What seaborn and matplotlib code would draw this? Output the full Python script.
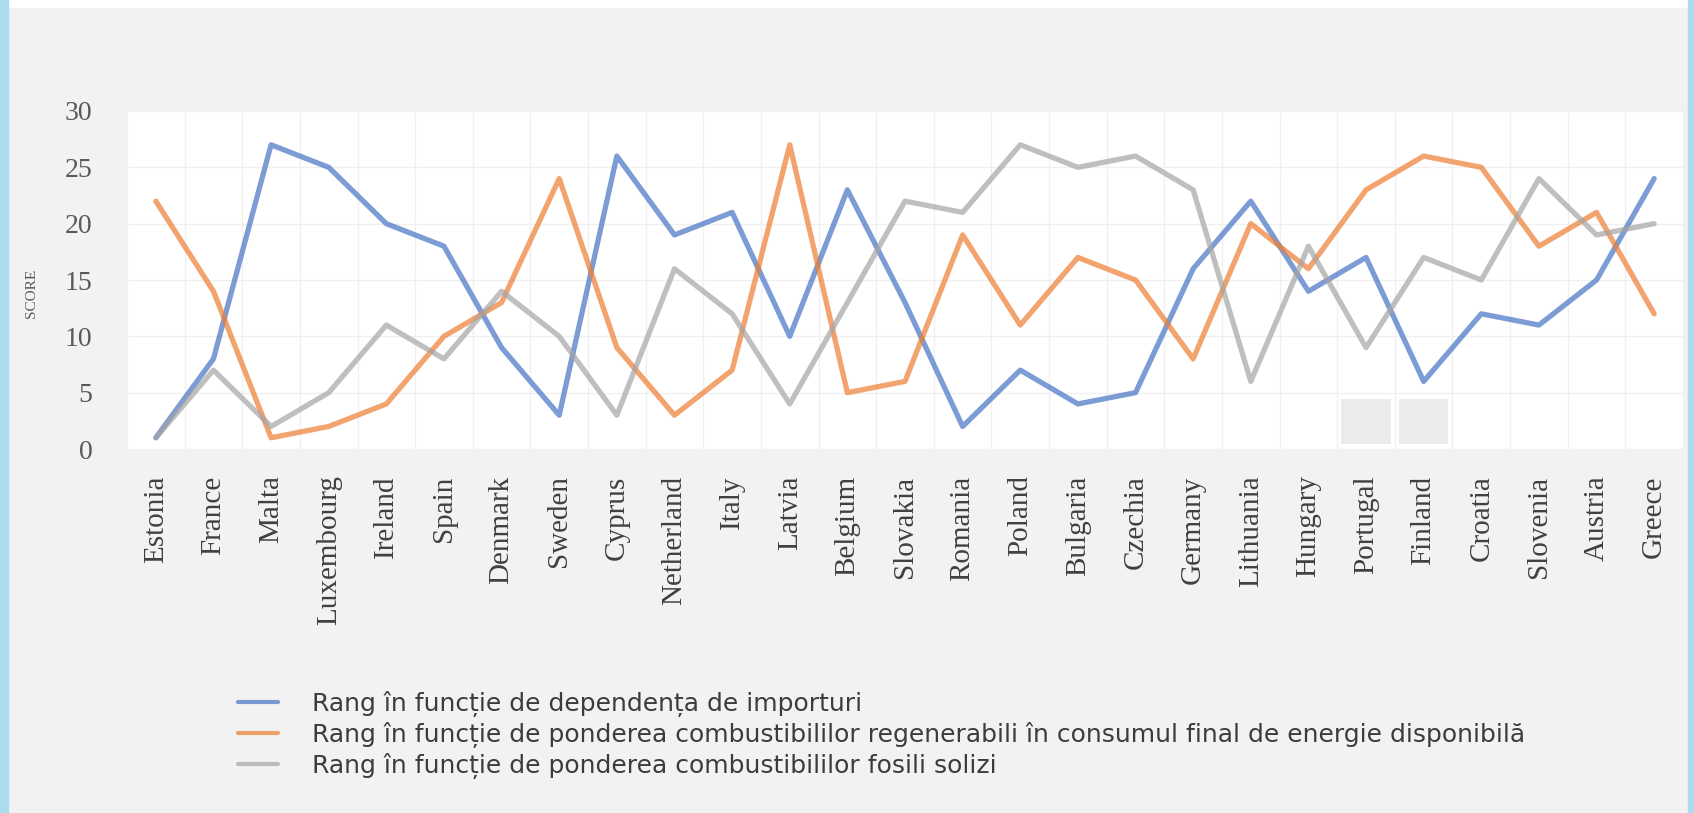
import numpy as np
import pandas as pd
import matplotlib
matplotlib.use("Agg")
import matplotlib.pyplot as plt
import seaborn as sns
from matplotlib.patches import Rectangle

countries = ["Estonia", "France", "Malta", "Luxembourg", "Ireland", "Spain", "Denmark",
             "Sweden", "Cyprus", "Netherland", "Italy", "Latvia", "Belgium", "Slovakia",
             "Romania", "Poland", "Bulgaria", "Czechia", "Germany", "Lithuania", "Hungary",
             "Portugal", "Finland", "Croatia", "Slovenia", "Austria", "Greece"]
import_rank = [1, 8, 27, 25, 20, 18, 9, 3, 26, 19, 21, 10, 23, 13, 2, 7, 4, 5, 16, 22, 14,
               17, 6, 12, 11, 15, 24]
renewable_rank = [22, 14, 1, 2, 4, 10, 13, 24, 9, 3, 7, 27, 5, 6, 19, 11, 17, 15, 8, 20, 16,
                  23, 26, 25, 18, 21, 12]
fossil_rank = [1, 7, 2, 5, 11, 8, 14, 10, 3, 16, 12, 4, 13, 22, 21, 27, 25, 26, 23, 6, 18,
               9, 17, 15, 24, 19, 20]
series_labels = ["Rang în funcție de dependența de importuri",
                 "Rang în funcție de ponderea combustibililor regenerabili în consumul final de energie disponibilă",
                 "Rang în funcție de ponderea combustibililor fosili solizi"]
y_ticks = [0, 5, 10, 15, 20, 25, 30]
y_label = "SCORE"
masked_countries = ["Portugal", "Finland"]

colors = ["#4472C4", "#ED7D31", "#A5A5A5"]

sns.set_theme(style="white")
plt.rcParams['font.family'] = ['Liberation Serif', 'DejaVu Serif']

W, H = 1694, 813
fig = plt.figure(figsize=(W / 100, H / 100), dpi=100, facecolor='#f2f2f2')

# frame decorations
fig.patches.append(Rectangle((0, 1 - 7 / H), 1, 7 / H, transform=fig.transFigure,
                             color='white', zorder=0))
fig.patches.append(Rectangle((0, 0), 8 / W, 1, transform=fig.transFigure,
                             color='#a9dcec', zorder=1))
fig.patches.append(Rectangle((1 - 6 / W, 0), 6 / W, 1, transform=fig.transFigure,
                             color='#a9dcec', zorder=1))

ax = fig.add_axes([127 / W, 1 - 449 / H, (1683 - 127) / W, (449 - 111) / H])
ax.set_facecolor('white')

df = pd.DataFrame({
    "country": countries * 3,
    "rank": import_rank + renewable_rank + fossil_rank,
    "series": [series_labels[0]] * len(countries) + [series_labels[1]] * len(countries)
              + [series_labels[2]] * len(countries),
})

sns.lineplot(data=df, x="country", y="rank", hue="series", hue_order=series_labels,
             palette=colors, sort=False, linewidth=3.8, alpha=0.7, ax=ax, zorder=3)

for c in masked_countries:
    i = countries.index(c)
    ax.add_patch(Rectangle((i - 0.43, 0.4), 0.86, 4.0, color='#ebebeb', zorder=1, lw=0))

ax.set_xlim(-0.5, len(countries) - 0.5)
ax.set_ylim(0, 30)
ax.set_yticks(y_ticks)
ax.set_xticks(range(len(countries)))
ax.set_xticklabels(countries, rotation=90, fontsize=21, color='#404040')
ax.set_xticks(np.arange(-0.5, len(countries), 1), minor=True)
ax.tick_params(axis='x', which='both', length=0, pad=19)
ax.tick_params(axis='y', length=0, pad=25, labelsize=20, labelcolor='#595959')
ax.grid(axis='y', which='major', color='#f0f0f0', lw=1.0)
ax.grid(axis='x', which='minor', color='#f0f0f0', lw=1.0)
ax.grid(axis='x', which='major', visible=False)
for s in ax.spines.values():
    s.set_visible(False)
ax.set_xlabel("")
ax.set_ylabel(y_label, fontsize=11, color='#595959')
ax.yaxis.set_label_coords(-0.057, 0.46)

handles, labels = ax.get_legend_handles_labels()
for h in handles:
    h.set_alpha(0.7)
    h.set_linewidth(3.0)

def make_legend(fs, ls):
    fs_px = fs * 100 / 72
    leg = ax.legend(handles, labels, loc='center left',
                    bbox_to_anchor=(238 / W, 1 - 735 / H), bbox_transform=fig.transFigure,
                    frameon=False, fontsize=fs, borderpad=0, borderaxespad=0,
                    handlelength=40 / fs_px, handletextpad=34 / fs_px, labelspacing=ls,
                    prop={'family': ['DejaVu Sans'], 'size': fs})
    for t in leg.get_texts():
        t.set_color('#3c3c3c')
    return leg

fs, ls = 14, 0.5
leg = make_legend(fs, ls)
fig.canvas.draw()
r = fig.canvas.get_renderer()
wid = leg.get_texts()[1].get_window_extent(r).width
fs = fs * 1215 / wid
leg = make_legend(fs, ls)
fig.canvas.draw()
e0 = leg.get_texts()[0].get_window_extent(r)
e1 = leg.get_texts()[1].get_window_extent(r)
pitch = (e0.y0 + e0.y1) / 2 - (e1.y0 + e1.y1) / 2
ls = ls + (31 - pitch) / (fs * 100 / 72)
leg = make_legend(fs, ls)

fig.savefig("out.png", dpi=100, facecolor=fig.get_facecolor())
